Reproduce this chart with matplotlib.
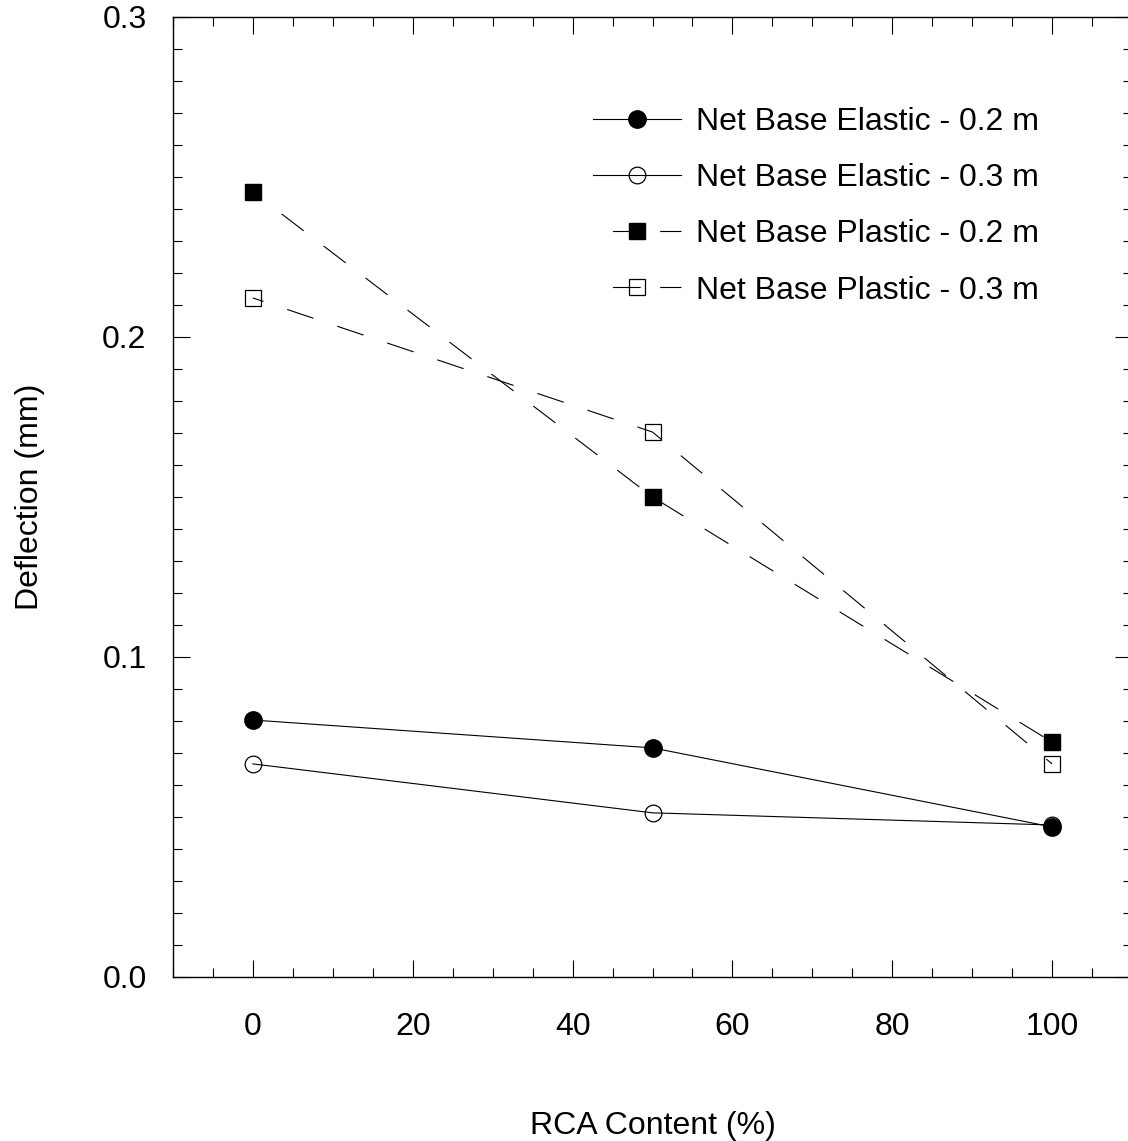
import matplotlib
matplotlib.use("Agg")
import matplotlib.pyplot as plt
from matplotlib.lines import Line2D
from matplotlib.ticker import MultipleLocator

# RCA content (%) and net base deflections (mm)
rca = [0, 50, 100]
elastic_02 = [0.0803, 0.0716, 0.0469]
elastic_03 = [0.0666, 0.0513, 0.0475]
plastic_02 = [0.2453, 0.1500, 0.0734]
plastic_03 = [0.2122, 0.1703, 0.0666]

labels = [
    "Net Base Elastic - 0.2 m",
    "Net Base Elastic - 0.3 m",
    "Net Base Plastic - 0.2 m",
    "Net Base Plastic - 0.3 m",
]

plt.rcParams.update({
    "font.family": ["Liberation Sans", "DejaVu Sans"],
    "font.size": 23,
})

W, H, DPI = 1128, 1141, 100
fig = plt.figure(figsize=(W / DPI, H / DPI), dpi=DPI)
# right spine sits just past the figure edge
ax = fig.add_axes([173 / W, 1 - 977 / H, (1132 - 173) / W, (977 - 17) / H])

lw = 0.8
dash = (15, (25, 22.5))
ms = 12.5

ax.plot(rca, elastic_02, color="black", lw=lw, marker="o", ms=ms,
        mfc="black", mec="black", zorder=3)
ax.plot(rca, elastic_03, color="black", lw=lw, marker="o", ms=ms - 0.5,
        mfc="none", mec="black", mew=0.9, zorder=3)
ax.plot(rca, plastic_02, color="black", lw=lw, ls=dash, marker="s", ms=ms - 0.5,
        mfc="black", mec="black", zorder=3)
ax.plot(rca, plastic_03, color="black", lw=lw, ls=dash, marker="s", ms=ms - 0.5,
        mfc="none", mec="black", mew=0.9, zorder=3)

ax.set_xlim(-10, 110)
ax.set_ylim(0, 0.3)
ax.xaxis.set_major_locator(MultipleLocator(20))
ax.xaxis.set_minor_locator(MultipleLocator(5))
ax.yaxis.set_major_locator(MultipleLocator(0.1))
ax.yaxis.set_minor_locator(MultipleLocator(0.01))
ax.set_xticks([0, 20, 40, 60, 80, 100])
ax.yaxis.set_major_formatter(plt.FuncFormatter(lambda v, _: f"{v:.1f}"))

ax.tick_params(which="both", direction="in", top=True, right=True,
               width=0.8, color="black")
ax.tick_params(which="major", length=12.5)
ax.tick_params(which="minor", length=6.5)
ax.tick_params(axis="x", which="major", pad=25, labelsize=23)
ax.tick_params(axis="y", which="major", pad=19, labelsize=23)

for sp in ax.spines.values():
    sp.set_linewidth(1.0)

ax.set_xlabel("RCA Content (%)", labelpad=50)
ax.set_ylabel("Deflection (mm)", labelpad=41)

# legend handles
leg_dash = (25, (25, 17.5))
handles = [
    Line2D([], [], color="black", lw=lw, marker="o", ms=ms, mfc="black", mec="black"),
    Line2D([], [], color="black", lw=lw, marker="o", ms=ms - 0.5, mfc="none",
           mec="black", mew=0.9),
    Line2D([], [], color="black", lw=lw, ls=leg_dash, marker="s", ms=ms - 0.5,
           mfc="black", mec="black"),
    Line2D([], [], color="black", lw=lw, ls=leg_dash, marker="s", ms=ms - 0.5,
           mfc="none", mec="black", mew=0.9),
]
ax.legend(handles, labels, loc="upper left",
          bbox_to_anchor=((593 - 173) / (1132 - 173), (977 - 107) / (977 - 17)),
          frameon=False, handlelength=2.74, handletextpad=0.5,
          labelspacing=0.82, borderpad=0, borderaxespad=0, fontsize=23)

fig.savefig("out.png", dpi=DPI)
